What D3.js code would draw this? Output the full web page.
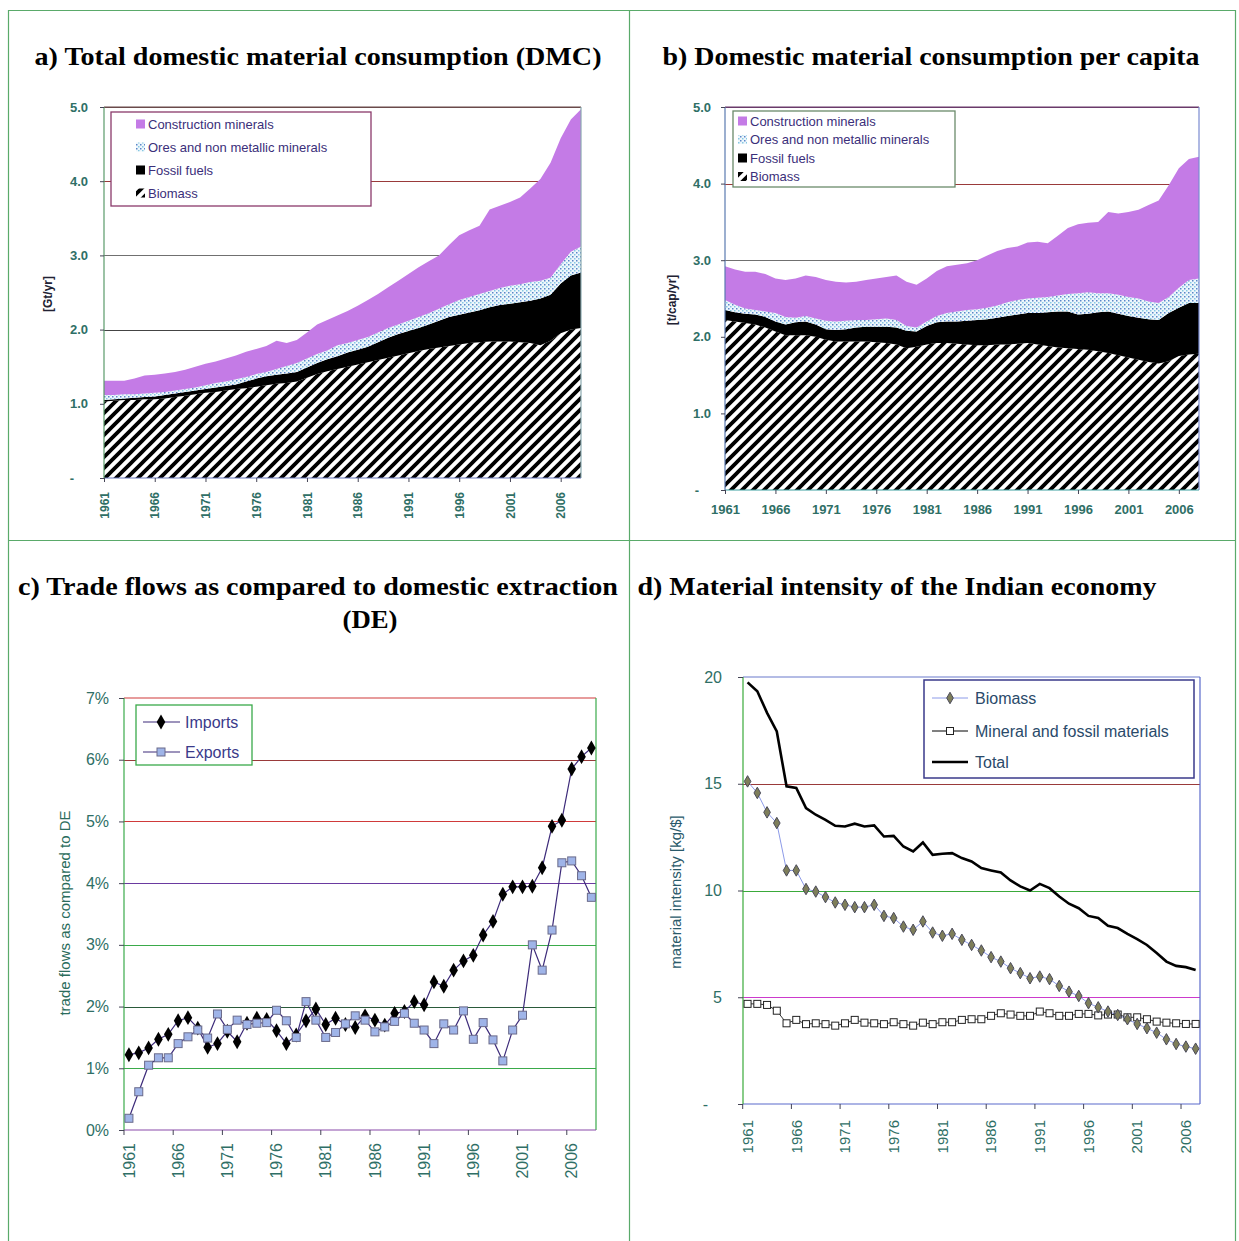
<!DOCTYPE html>
<html>
<head>
<meta charset="utf-8">
<script src="https://cdn.jsdelivr.net/npm/d3@7"></script>
<style>
  body { margin: 0; background: #fff; }
  svg { display: block; }
  text { font-family: "Liberation Sans", Arial, sans-serif; }
  .title { font-family: "Liberation Serif", "Times New Roman", serif; font-weight: bold; font-size: 26px; fill: #000; }
</style>
</head>
<body>
<div id="chart"></div>
<script>
// ---- categories ----
const yearsFull = d3.range(1961, 2009);   // 1961-2008, panels a, b, c
const yearsInt = d3.range(1961, 2008);    // 1961-2007, panel d
const tickYears = [1961, 1966, 1971, 1976, 1981, 1986, 1991, 1996, 2001, 2006];

// ---- a) total DMC [Gt/yr] ----
const dmcBiomass = [1.03,1.04,1.05,1.05,1.06,1.06,1.07,1.09,1.11,1.13,1.15,1.16,1.18,1.20,1.21,1.23,1.25,1.27,1.28,1.30,1.35,1.40,1.44,1.47,1.50,1.53,1.56,1.59,1.62,1.65,1.68,1.71,1.74,1.76,1.78,1.80,1.82,1.83,1.84,1.84,1.84,1.83,1.82,1.79,1.85,1.95,2.00,2.02];
const dmcFossil = [.02,.02,.02,.03,.03,.04,.05,.05,.05,.05,.05,.06,.06,.06,.09,.11,.12,.12,.13,.13,.14,.15,.16,.17,.19,.20,.21,.24,.27,.29,.30,.31,.33,.36,.39,.40,.41,.43,.46,.49,.51,.54,.57,.63,.62,.67,.73,.75];
const dmcOres = [.07,.06,.06,.05,.05,.05,.04,.04,.04,.04,.05,.06,.06,.07,.06,.06,.06,.08,.10,.12,.12,.12,.12,.15,.13,.13,.13,.13,.13,.13,.14,.15,.15,.16,.17,.20,.21,.22,.22,.23,.24,.24,.25,.24,.23,.26,.32,.35];
const dmcConstruction = [.19,.19,.18,.21,.24,.24,.25,.25,.26,.28,.29,.29,.31,.32,.34,.34,.35,.38,.31,.31,.35,.40,.41,.40,.43,.46,.50,.52,.55,.59,.63,.67,.70,.72,.80,.87,.90,.92,1.10,1.11,1.13,1.17,1.26,1.37,1.55,1.70,1.78,1.85];

// ---- b) DMC per capita [t/cap/yr] ----
const capBiomass = [2.22,2.20,2.18,2.16,2.12,2.07,2.02,2.02,2.02,2.00,1.96,1.94,1.94,1.94,1.94,1.93,1.92,1.90,1.85,1.87,1.90,1.92,1.92,1.91,1.90,1.89,1.89,1.90,1.90,1.91,1.92,1.90,1.88,1.86,1.85,1.84,1.83,1.81,1.79,1.76,1.73,1.70,1.67,1.65,1.68,1.75,1.77,1.78];
const capFossil = [.13,.12,.12,.13,.14,.13,.14,.17,.18,.16,.14,.15,.16,.18,.19,.20,.21,.22,.23,.20,.24,.27,.28,.29,.31,.33,.34,.35,.37,.38,.39,.41,.44,.47,.48,.45,.47,.51,.54,.54,.54,.55,.56,.57,.63,.63,.67,.66];
const capOres = [.13,.10,.07,.06,.07,.11,.10,.06,.07,.08,.11,.11,.11,.10,.09,.10,.11,.10,.06,.05,.06,.08,.11,.13,.14,.14,.15,.16,.18,.19,.19,.20,.20,.21,.23,.28,.28,.25,.24,.25,.25,.25,.23,.22,.21,.26,.30,.32];
const capConstruction = [.44,.46,.48,.50,.49,.45,.48,.51,.53,.54,.53,.52,.50,.50,.52,.53,.54,.58,.58,.56,.56,.59,.61,.61,.61,.64,.68,.71,.71,.70,.73,.73,.70,.78,.86,.90,.91,.93,1.06,1.06,1.11,1.16,1.26,1.34,1.46,1.56,1.58,1.59];

// ---- c) trade flows as % of DE ----
const imports = [1.22,1.25,1.33,1.47,1.55,1.77,1.82,1.65,1.34,1.40,1.60,1.43,1.73,1.81,1.79,1.61,1.40,1.54,1.77,1.96,1.71,1.81,1.71,1.66,1.85,1.78,1.70,1.89,1.92,2.08,2.03,2.40,2.33,2.59,2.74,2.83,3.16,3.38,3.82,3.94,3.94,3.95,4.25,4.92,5.02,5.85,6.05,6.19];
const exports = [0.19,0.62,1.05,1.17,1.17,1.40,1.51,1.62,1.49,1.88,1.63,1.78,1.71,1.73,1.74,1.94,1.77,1.50,2.08,1.78,1.50,1.58,1.72,1.85,1.78,1.59,1.67,1.76,1.89,1.73,1.62,1.40,1.72,1.62,1.93,1.47,1.74,1.46,1.12,1.62,1.86,3.00,2.59,3.24,4.33,4.36,4.12,3.77];

// ---- d) material intensity [kg/$] ----
const intBiomass = [15.11,14.57,13.66,13.16,10.94,10.94,10.07,9.95,9.69,9.44,9.33,9.22,9.22,9.33,8.81,8.71,8.31,8.16,8.55,8.03,7.88,7.97,7.69,7.45,7.19,6.88,6.67,6.36,6.13,5.89,5.97,5.85,5.53,5.26,5.06,4.72,4.53,4.33,4.17,3.97,3.75,3.55,3.34,3.03,2.81,2.69,2.59];
const intMineral = [4.69,4.69,4.64,4.37,3.78,3.94,3.74,3.78,3.74,3.67,3.78,3.94,3.81,3.78,3.74,3.83,3.74,3.67,3.81,3.74,3.83,3.83,3.94,3.97,3.97,4.13,4.25,4.19,4.13,4.13,4.33,4.25,4.13,4.13,4.22,4.22,4.15,4.19,4.19,4.06,4.06,3.97,3.86,3.81,3.78,3.75,3.75];
const intTotal = [19.75,19.33,18.32,17.45,14.88,14.80,13.86,13.55,13.31,13.03,13.00,13.13,13.00,13.05,12.53,12.56,12.06,11.83,12.25,11.67,11.72,11.75,11.52,11.36,11.05,10.94,10.84,10.47,10.19,10.00,10.31,10.11,9.72,9.38,9.17,8.81,8.71,8.35,8.24,7.97,7.72,7.45,7.07,6.67,6.47,6.41,6.28];

const stackKeys = ["biomass", "fossil", "ores", "construction"];
const legendNames = ["Construction minerals", "Ores and non metallic minerals", "Fossil fuels", "Biomass"];

const tickColor = "#2f6f66";
const legendColor = "#3b2f7a";

const svg = d3.select("#chart").append("svg")
    .attr("width", 1239)
    .attr("height", 1241);

const defs = svg.append("defs");

// diagonal hatch for biomass
const hatch = defs.append("pattern")
    .attr("id", "hatch")
    .attr("patternUnits", "userSpaceOnUse")
    .attr("width", 11).attr("height", 11);
hatch.append("rect").attr("width", 11).attr("height", 11).attr("fill", "#fff");
hatch.append("path")
    .attr("d", "M-2,13 L13,-2 M-3,3 L3,-3 M8,14 L14,8")
    .attr("stroke", "#000").attr("stroke-width", 3.8);

// light dotted fill for ores
const dots = defs.append("pattern")
    .attr("id", "dots")
    .attr("patternUnits", "userSpaceOnUse")
    .attr("width", 4).attr("height", 4);
dots.append("rect").attr("width", 4).attr("height", 4).attr("fill", "#eef7fc");
dots.append("rect").attr("width", 1.5).attr("height", 1.5).attr("fill", "#5a86c8");
dots.append("rect").attr("x", 2).attr("y", 2).attr("width", 1.5).attr("height", 1.5).attr("fill", "#86c8e2");

const layerFills = {
    biomass: "url(#hatch)",
    fossil: "#000",
    ores: "url(#dots)",
    construction: "#c47be6"
};

// table borders
const border = svg.append("g").attr("stroke", "#5aaa6a").attr("stroke-width", 1.2);
border.append("line").attr("x1", 8).attr("x2", 1236).attr("y1", 10.5).attr("y2", 10.5);
border.append("line").attr("x1", 8).attr("x2", 1236).attr("y1", 540.5).attr("y2", 540.5);
border.append("line").attr("x1", 8.5).attr("x2", 8.5).attr("y1", 10).attr("y2", 1241);
border.append("line").attr("x1", 629.5).attr("x2", 629.5).attr("y1", 10).attr("y2", 1241);
border.append("line").attr("x1", 1235.5).attr("x2", 1235.5).attr("y1", 10).attr("y2", 1241);

// titles
function title(txt, x, y, len) {
    svg.append("text").attr("class", "title")
        .attr("x", x).attr("y", y)
        .attr("text-anchor", "middle")
        .attr("textLength", len).attr("lengthAdjust", "spacingAndGlyphs")
        .text(txt);
}
title("a) Total domestic material consumption (DMC)", 318, 65, 567);
title("b) Domestic material consumption per capita", 931, 65, 537);
title("c) Trade flows as compared to domestic extraction", 318, 595, 600);
title("(DE)", 370, 628, 55);
title("d) Material intensity of the Indian economy", 897, 595, 519);

function frame(g, x0, x1, y0, y1, colors) {
    const segs = [[x0, y0, x1, y0], [x1, y0, x1, y1], [x0, y1, x1, y1], [x0, y0, x0, y1]];
    segs.forEach((s, i) => {
        g.append("line")
            .attr("x1", s[0]).attr("y1", s[1]).attr("x2", s[2]).attr("y2", s[3])
            .attr("stroke", colors[i]).attr("stroke-width", 1.2);
    });
}

function gridLines(g, y, vals, colors, x0, x1) {
    g.selectAll(null).data(vals).join("line")
        .attr("x1", x0).attr("x2", x1)
        .attr("y1", d => Math.round(y(d)) + 0.5).attr("y2", d => Math.round(y(d)) + 0.5)
        .attr("stroke", (d, i) => colors[i]).attr("stroke-width", 1.2);
}

function styleAxis(ax, size, weight) {
    ax.select(".domain").remove();
    ax.selectAll(".tick line").attr("stroke", "#445");
    ax.selectAll("text").attr("fill", tickColor).style("font-size", size + "px").style("font-weight", weight);
}

// ---------- stacked area panels (a, b) ----------
function stackPanel(cfg) {
    const g = svg.append("g");
    const x = d3.scaleLinear().domain([1961, 2008]).range([cfg.x0, cfg.x1]);
    const y = d3.scaleLinear().domain([0, 5]).range([cfg.y0, cfg.y1]);

    const table = yearsFull.map((yr, i) => ({
        year: yr,
        biomass: cfg.data.biomass[i],
        fossil: cfg.data.fossil[i],
        ores: cfg.data.ores[i],
        construction: cfg.data.construction[i]
    }));
    const layers = d3.stack().keys(stackKeys)(table);

    gridLines(g, y, [1, 2, 3, 4, 5], cfg.gridColors, cfg.x0, cfg.x1);

    const area = d3.area()
        .x(d => x(d.data.year))
        .y0(d => y(d[0]))
        .y1(d => y(d[1]));

    g.selectAll("path.layer").data(layers).join("path")
        .attr("class", "layer")
        .attr("fill", d => layerFills[d.key])
        .attr("d", area);

    frame(g, cfg.x0, cfg.x1, cfg.y1, cfg.y0, cfg.frameColors);

    const ay = g.append("g")
        .attr("transform", `translate(${cfg.x0},0)`)
        .call(d3.axisLeft(y).tickValues([0, 1, 2, 3, 4, 5]).tickSize(4).tickPadding(cfg.yPad)
            .tickFormat(v => v === 0 ? "-" : d3.format(".1f")(v)));
    styleAxis(ay, 13, "bold");
    ay.selectAll(".tick").filter(d => d === 0).select("text").attr("dx", cfg.zeroShift);

    const ax = g.append("g")
        .attr("transform", `translate(0,${cfg.y0})`)
        .call(d3.axisBottom(x).tickValues(tickYears).tickSize(4).tickFormat(d3.format("d")));
    styleAxis(ax, cfg.rotate ? 12 : 13, "bold");
    if (cfg.rotate) {
        ax.selectAll("text")
            .attr("transform", "rotate(-90)")
            .attr("text-anchor", "end")
            .attr("x", -14).attr("y", 0).attr("dy", "0.35em");
    } else {
        ax.selectAll("text").attr("y", 15);
    }

    g.append("text")
        .attr("transform", `translate(${cfg.labelX},${cfg.labelY}) rotate(-90)`)
        .attr("text-anchor", "middle")
        .attr("dy", "0.35em")
        .style("font-size", "12px").style("font-weight", "bold")
        .attr("fill", "#223")
        .text(cfg.yLabel);

    // legend
    const lg = cfg.legend;
    const leg = g.append("g");
    leg.append("rect")
        .attr("x", lg.x).attr("y", lg.y).attr("width", lg.w).attr("height", lg.h)
        .attr("fill", "#fff").attr("stroke", lg.stroke).attr("stroke-width", 1.3);
    const legKeys = ["construction", "ores", "fossil", "biomass"];
    legKeys.forEach((k, i) => {
        const cy = lg.y + lg.first + i * lg.step;
        leg.append("rect")
            .attr("x", lg.sx).attr("y", cy - 4.5).attr("width", 9).attr("height", 9)
            .attr("fill", layerFills[k]);
        leg.append("text")
            .attr("x", lg.sx + 12).attr("y", cy).attr("dy", "0.35em")
            .style("font-size", "13px").attr("fill", legendColor)
            .text(legendNames[i]);
    });
}

stackPanel({
    x0: 104, x1: 581, y0: 478, y1: 107,
    data: { biomass: dmcBiomass, fossil: dmcFossil, ores: dmcOres, construction: dmcConstruction },
    gridColors: ["#555", "#444", "#707070", "#9a3a3a", "#6a4a4a"],
    frameColors: ["#6a4a4a", "#8aaab0", "#6a7ac0", "#5a9a6a"],
    yPad: 12, zeroShift: -14, rotate: true,
    labelX: 48, labelY: 294, yLabel: "[Gt/yr]",
    legend: { x: 111, y: 112, w: 260, h: 94, stroke: "#8a3a6a", sx: 136, first: 12, step: 23 }
});

stackPanel({
    x0: 725, x1: 1199, y0: 490, y1: 107,
    data: { biomass: capBiomass, fossil: capFossil, ores: capOres, construction: capConstruction },
    gridColors: ["#555", "#444", "#707070", "#9a3a3a", "#6a3a6a"],
    frameColors: ["#6a3a6a", "#7a8ad0", "#3aa0a0", "#5a7ab0"],
    yPad: 10, zeroShift: -12, rotate: false,
    labelX: 672, labelY: 300, yLabel: "[t/cap/yr]",
    legend: { x: 733, y: 111, w: 222, h: 76, stroke: "#6a8a6a", sx: 738, first: 10, step: 18.5 }
});

// ---------- c) trade flows ----------
(function () {
    const g = svg.append("g");
    const x = d3.scaleBand().domain(yearsFull).range([124, 596.3]);
    const y = d3.scaleLinear().domain([0, 7]).range([1130, 698]);
    const bw = x.bandwidth();
    const cx = yr => x(yr) + bw / 2;

    gridLines(g, y, [1, 2, 3, 4, 5, 6],
        ["#3aaa4a", "#2a5a3a", "#3aaa4a", "#6a3aa0", "#d03a3a", "#9a3a3a"], 124, 596);
    frame(g, 124, 596, 698, 1130, ["#d03a3a", "#3aaa4a", "#8a4aaa", "#3aaa4a"]);

    const ay = g.append("g")
        .attr("transform", "translate(124,0)")
        .call(d3.axisLeft(y).tickValues([0, 1, 2, 3, 4, 5, 6, 7]).tickSize(5).tickPadding(10)
            .tickFormat(v => v + "%"));
    styleAxis(ay, 16, "normal");

    const ax = g.append("g")
        .attr("transform", "translate(0,1130)")
        .call(d3.axisBottom(x).tickValues(tickYears).tickSize(5));
    styleAxis(ax, 16, "normal");
    ax.selectAll(".tick line").attr("x1", -bw / 2).attr("x2", -bw / 2);
    ax.selectAll("text")
        .attr("transform", "rotate(-90)")
        .attr("text-anchor", "end")
        .attr("x", -13).attr("y", 0).attr("dy", "0.35em");

    g.append("text")
        .attr("transform", "translate(65,913) rotate(-90)")
        .attr("text-anchor", "middle").attr("dy", "0.35em")
        .style("font-size", "15px").attr("fill", "#2b6c5c")
        .text("trade flows as compared to DE");

    const lineGen = d3.line().x((d, i) => cx(yearsFull[i])).y(d => y(d));
    const diamond = d3.symbol().type(d3.symbolDiamond).size(64);

    g.append("path").datum(exports)
        .attr("d", lineGen).attr("fill", "none").attr("stroke", "#3d2b7a").attr("stroke-width", 1.2);
    g.append("path").datum(imports)
        .attr("d", lineGen).attr("fill", "none").attr("stroke", "#3d2b7a").attr("stroke-width", 1.2);

    g.selectAll("path.imp").data(imports).join("path")
        .attr("class", "imp")
        .attr("transform", (d, i) => `translate(${cx(yearsFull[i])},${y(d)})`)
        .attr("d", diamond).attr("fill", "#000");
    g.selectAll("rect.exp").data(exports).join("rect")
        .attr("class", "exp")
        .attr("x", (d, i) => cx(yearsFull[i]) - 4).attr("y", d => y(d) - 4)
        .attr("width", 8).attr("height", 8)
        .attr("fill", "#9fb4e8").attr("stroke", "#6a6a8a").attr("stroke-width", 1);

    // legend
    const leg = g.append("g");
    leg.append("rect").attr("x", 136).attr("y", 705).attr("width", 116).attr("height", 60)
        .attr("fill", "#fff").attr("stroke", "#3aaa4a").attr("stroke-width", 1.3);
    [["Imports", 722], ["Exports", 752]].forEach((e, i) => {
        leg.append("line").attr("x1", 143).attr("x2", 180).attr("y1", e[1]).attr("y2", e[1])
            .attr("stroke", "#3d2b7a").attr("stroke-width", 1.2);
        if (i === 0) {
            leg.append("path").attr("transform", `translate(161,${e[1]})`).attr("d", diamond).attr("fill", "#000");
        } else {
            leg.append("rect").attr("x", 157).attr("y", e[1] - 4).attr("width", 8).attr("height", 8)
                .attr("fill", "#9fb4e8").attr("stroke", "#6a6a8a");
        }
        leg.append("text").attr("x", 185).attr("y", e[1]).attr("dy", "0.35em")
            .style("font-size", "16px").attr("fill", "#3a3a8a").text(e[0]);
    });
})();

// ---------- d) material intensity ----------
(function () {
    const g = svg.append("g");
    const x = d3.scaleBand().domain(yearsInt).range([742.7, 1200.5]);
    const y = d3.scaleLinear().domain([0, 20]).range([1104, 677]);
    const bw = x.bandwidth();
    const cx = yr => x(yr) + bw / 2;

    gridLines(g, y, [5, 10, 15], ["#cc3acc", "#3aaa3a", "#9a3a3a"], 743, 1200);
    frame(g, 743, 1200, 677, 1104, ["#6a7acc", "#5a6acc", "#5a6acc", "#3aaa3a"]);

    const ay = g.append("g")
        .attr("transform", "translate(743,0)")
        .call(d3.axisLeft(y).tickValues([0, 5, 10, 15, 20]).tickSize(5).tickPadding(16)
            .tickFormat(v => v === 0 ? "-" : v));
    styleAxis(ay, 16, "normal");
    ay.selectAll(".tick").filter(d => d === 0).select("text").attr("dx", -14);

    const ax = g.append("g")
        .attr("transform", "translate(0,1104)")
        .call(d3.axisBottom(x).tickValues(tickYears).tickSize(5));
    styleAxis(ax, 15, "normal");
    ax.selectAll(".tick line").attr("x1", -bw / 2).attr("x2", -bw / 2);
    ax.selectAll("text")
        .attr("transform", "rotate(-90)")
        .attr("text-anchor", "end")
        .attr("x", -16).attr("y", 0).attr("dy", "0.35em");

    g.append("text")
        .attr("transform", "translate(676,892) rotate(-90)")
        .attr("text-anchor", "middle").attr("dy", "0.35em")
        .style("font-size", "15px").attr("fill", "#2a5a6a")
        .text("material intensity [kg/$]");

    const lineGen = d3.line().x((d, i) => cx(yearsInt[i])).y(d => y(d));
    const diamond = d3.symbol().type(d3.symbolDiamond).size(38);

    g.append("path").datum(intMineral)
        .attr("d", lineGen).attr("fill", "none").attr("stroke", "#333").attr("stroke-width", 1);
    g.append("path").datum(intBiomass)
        .attr("d", lineGen).attr("fill", "none").attr("stroke", "#8c9ae8").attr("stroke-width", 1);
    g.append("path").datum(intTotal)
        .attr("d", lineGen).attr("fill", "none").attr("stroke", "#000").attr("stroke-width", 2.6);

    g.selectAll("rect.min").data(intMineral).join("rect")
        .attr("class", "min")
        .attr("x", (d, i) => cx(yearsInt[i]) - 3.5).attr("y", d => y(d) - 3.5)
        .attr("width", 7).attr("height", 7)
        .attr("fill", "#fff").attr("stroke", "#222").attr("stroke-width", 1);
    g.selectAll("path.bio").data(intBiomass).join("path")
        .attr("class", "bio")
        .attr("transform", (d, i) => `translate(${cx(yearsInt[i])},${y(d)})`)
        .attr("d", diamond).attr("fill", "#7e7e5a").attr("stroke", "#4a4a5a").attr("stroke-width", 1);

    // legend
    const leg = g.append("g");
    leg.append("rect").attr("x", 924).attr("y", 680).attr("width", 270).attr("height", 98)
        .attr("fill", "#fff").attr("stroke", "#3a3a8a").attr("stroke-width", 1.5);
    const items = [["Biomass", 698], ["Mineral and fossil materials", 731], ["Total", 762]];
    items.forEach((e, i) => {
        leg.append("line").attr("x1", 932).attr("x2", 968).attr("y1", e[1]).attr("y2", e[1])
            .attr("stroke", i === 0 ? "#8c9ae8" : "#000").attr("stroke-width", i === 2 ? 2.6 : 1);
        if (i === 0) {
            leg.append("path").attr("transform", `translate(950,${e[1]})`).attr("d", diamond)
                .attr("fill", "#7e7e5a").attr("stroke", "#4a4a5a");
        } else if (i === 1) {
            leg.append("rect").attr("x", 946.5).attr("y", e[1] - 3.5).attr("width", 7).attr("height", 7)
                .attr("fill", "#fff").attr("stroke", "#222");
        }
        leg.append("text").attr("x", 975).attr("y", e[1]).attr("dy", "0.35em")
            .style("font-size", "16px").attr("fill", "#2a4a6a").text(e[0]);
    });
})();
</script>
</body>
</html>
